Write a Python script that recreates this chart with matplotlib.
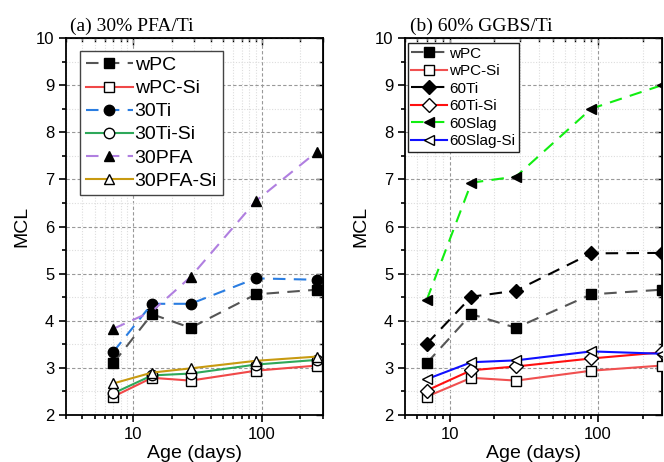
import numpy as np
import matplotlib.pyplot as plt
from matplotlib.ticker import LogLocator, NullFormatter, FixedLocator, MultipleLocator

plt.rcParams['font.family'] = ['Liberation Sans', 'DejaVu Sans']

# Age (days)
age = [7, 14, 28, 90, 270]

# panel (a) 30% PFA/Ti
wpc = [3.10, 4.14, 3.85, 4.56, 4.66]
wpc_si = [2.39, 2.79, 2.73, 2.94, 3.05]
ti30 = [3.34, 4.36, 4.36, 4.90, 4.87]
ti30_si = [2.46, 2.84, 2.88, 3.07, 3.17]
pfa30 = [3.83, 4.20, 4.93, 6.54, 7.59]
pfa30_si = [2.67, 2.90, 2.99, 3.15, 3.24]

# panel (b) 60% GGBS/Ti
ti60 = [3.51, 4.51, 4.64, 5.43, 5.44]
ti60_si = [2.52, 2.95, 3.03, 3.20, 3.33]
slag60 = [4.44, 6.93, 7.06, 8.50, 9.00]
slag60_si = [2.76, 3.12, 3.16, 3.35, 3.30]

fig = plt.figure(figsize=(6.64, 4.62), dpi=100)
ax1 = fig.add_axes([0.0994, 0.1017, 0.387, 0.816])
ax2 = fig.add_axes([0.610, 0.1017, 0.387, 0.816])


def series(ax, y, color, ls, marker, filled, label, clip=True):
    ax.plot(age, y, ls=ls, color=color, lw=1.5, marker=marker, ms=7.5,
            mfc='black' if filled else 'white', mec='black', mew=1.0,
            label=label, clip_on=clip, zorder=3,
            dashes=(6, 4) if ls == '--' else (None, None))


# (a)
series(ax1, wpc, '#555555', '--', 's', True, 'wPC', False)
series(ax1, wpc_si, '#f04848', '-', 's', False, 'wPC-Si', False)
series(ax1, ti30, '#2a7de1', '--', 'o', True, '30Ti', False)
series(ax1, ti30_si, '#2ea85a', '-', 'o', False, '30Ti-Si', False)
series(ax1, pfa30, '#b07fe0', '--', '^', True, '30PFA', False)
series(ax1, pfa30_si, '#c89a10', '-', '^', False, '30PFA-Si', False)

# (b)
series(ax2, wpc, '#555555', '--', 's', True, 'wPC')
series(ax2, wpc_si, '#f05050', '-', 's', False, 'wPC-Si')
series(ax2, ti60, '#000000', '--', 'D', True, '60Ti')
series(ax2, ti60_si, '#ff1010', '-', 'D', False, '60Ti-Si')
series(ax2, slag60, '#11ee11', '--', '<', True, '60Slag')
series(ax2, slag60_si, '#1010ff', '-', '<', False, '60Slag-Si')

for ax, xlim in [(ax1, (3, 300)), (ax2, (5, 270))]:
    ax.set_xscale('log')
    ax.set_xlim(*xlim)
    ax.set_ylim(2, 10)
    ax.xaxis.set_major_locator(FixedLocator([10, 100]))
    ax.set_xticklabels(['10', '100'])
    ax.xaxis.set_minor_locator(LogLocator(base=10, subs=np.arange(2, 10)))
    ax.xaxis.set_minor_formatter(NullFormatter())
    ax.yaxis.set_major_locator(MultipleLocator(1))
    ax.yaxis.set_minor_locator(MultipleLocator(0.5))
    ax.grid(which='major', ls=(0, (3, 2)), color='#999999', lw=0.8)
    ax.grid(which='minor', ls=(0, (1, 1.5)), color='#dddddd', lw=0.8)
    ax.set_axisbelow(True)
    ax.tick_params(which='both', direction='out', top=False, right=False,
                   labelsize=12, width=1.2)
    ax.tick_params(which='major', length=5)
    ax.tick_params(which='minor', length=3)
    sec = ax.secondary_xaxis('top')
    sec.xaxis.set_major_locator(FixedLocator([10, 100]))
    sec.xaxis.set_minor_locator(LogLocator(base=10, subs=np.arange(2, 10)))
    sec.tick_params(which='both', direction='in', labeltop=False, width=1.0)
    sec.tick_params(which='major', length=5)
    sec.tick_params(which='minor', length=3)
    secy = ax.secondary_yaxis('right')
    secy.yaxis.set_major_locator(MultipleLocator(1))
    secy.yaxis.set_minor_locator(MultipleLocator(0.5))
    secy.tick_params(which='both', direction='in', labelright=False, width=1.0)
    secy.tick_params(which='major', length=5)
    secy.tick_params(which='minor', length=3)
    for s in ax.spines.values():
        s.set_linewidth(1.3)
    ax.set_xlabel('Age (days)', fontsize=14, labelpad=2)
    ax.set_ylabel('MCL', fontsize=14, labelpad=4)

ax1.set_title('(a) 30% PFA/Ti', family='Liberation Serif', fontsize=14,
              loc='left', pad=5, x=0.015)
ax2.set_title('(b) 60% GGBS/Ti', family='Liberation Serif', fontsize=14,
              loc='left', pad=5, x=0.02)

leg1 = ax1.legend(loc='upper left', bbox_to_anchor=(0.055, 0.966), fontsize=14,
                  fancybox=False, framealpha=1, edgecolor='#444444',
                  handlelength=2.4, handletextpad=0.1, borderpad=0.3,
                  labelspacing=0.28, borderaxespad=0)
leg1.get_frame().set_linewidth(1.0)
leg2 = ax2.legend(loc='upper left', bbox_to_anchor=(0.01, 0.987), fontsize=11,
                  fancybox=False, framealpha=1, edgecolor='#222222',
                  handlelength=2.35, handletextpad=0.1, borderpad=0.25,
                  labelspacing=0.23, borderaxespad=0)
leg2.get_frame().set_linewidth(1.0)

fig.savefig('out.png', dpi=100)
